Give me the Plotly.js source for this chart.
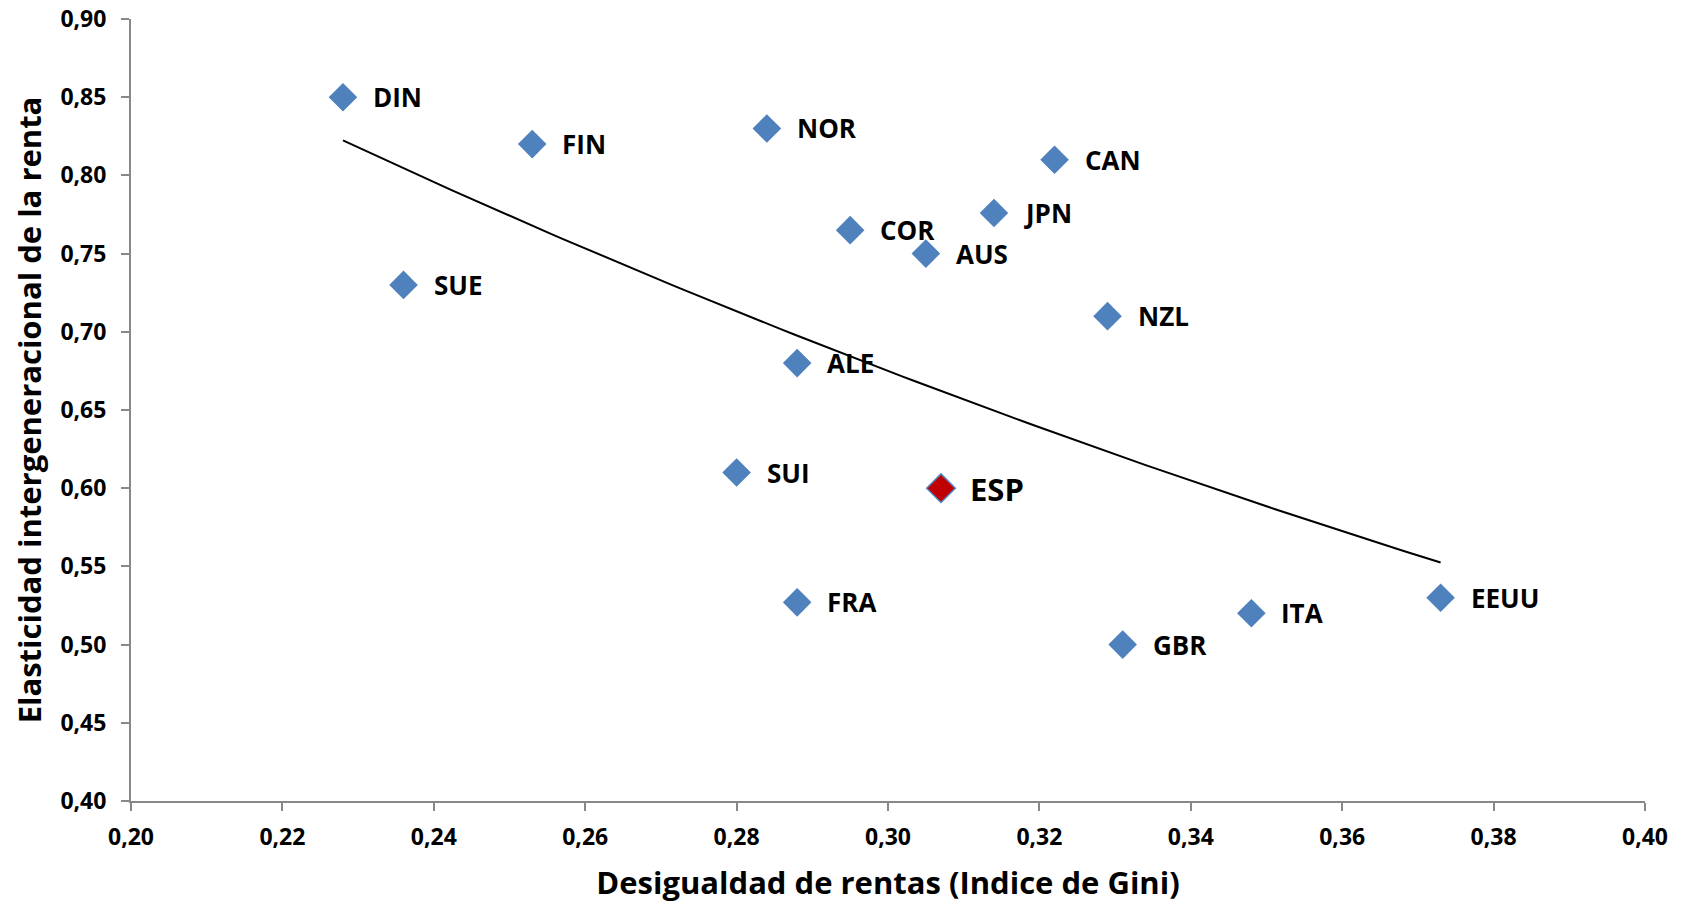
<!DOCTYPE html>
<html>
<head>
<meta charset="utf-8">
<script src="https://cdn.plot.ly/plotly-3.0.1.min.js"></script>
<style>html,body{margin:0;padding:0;background:#fff;}#chart{width:1686px;height:903px;}</style>
</head>
<body>
<div id="chart"></div>
<script>
// Data
const countries = ["DIN","FIN","NOR","CAN","JPN","COR","AUS","SUE","NZL","ALE","SUI","ESP","FRA","ITA","GBR","EEUU"];
const gini      = [0.228,0.253,0.284,0.322,0.314,0.295,0.305,0.236,0.329,0.288,0.280,0.307,0.288,0.348,0.331,0.373];
const elasticity= [0.850,0.820,0.830,0.810,0.776,0.765,0.750,0.730,0.710,0.680,0.610,0.600,0.527,0.520,0.500,0.530];
const highlight = "ESP";
const xTicks = [0.20,0.22,0.24,0.26,0.28,0.30,0.32,0.34,0.36,0.38,0.40];
const yTicks = [0.40,0.45,0.50,0.55,0.60,0.65,0.70,0.75,0.80,0.85,0.90];

const FONT = "Open Sans, sans-serif";
const BLUE = "#4F81BD";
const RED = "#C00000";

// Exponential trend line (least squares of ln y on x), over the data range
const n = gini.length;
const ly = elasticity.map(Math.log);
const mx = gini.reduce((a,b)=>a+b,0)/n;
const mly = ly.reduce((a,b)=>a+b,0)/n;
let sxy=0, sxx=0;
for (let i=0;i<n;i++){ sxy += (gini[i]-mx)*(ly[i]-mly); sxx += (gini[i]-mx)**2; }
const b = sxy/sxx, lna = mly - b*mx;
const xmin = Math.min(...gini), xmax = Math.max(...gini);
const tx=[], ty=[];
for (let k=0;k<=100;k++){ const x = xmin + (xmax-xmin)*k/100; tx.push(x); ty.push(Math.exp(lna + b*x)); }

const idxOther = countries.map((c,i)=>i).filter(i=>countries[i]!==highlight);
const idxHi = countries.map((c,i)=>i).filter(i=>countries[i]===highlight);

const traces = [
  {x: tx, y: ty, mode: "lines", line: {color: "#000", width: 2}, hoverinfo: "skip", showlegend: false},
  {x: idxOther.map(i=>gini[i]), y: idxOther.map(i=>elasticity[i]), mode: "markers",
   marker: {symbol: "diamond", size: 22, color: BLUE, line: {width: 0}}, showlegend: false},
  {x: idxHi.map(i=>gini[i]), y: idxHi.map(i=>elasticity[i]), mode: "markers",
   marker: {symbol: "diamond", size: 22, color: RED, line: {width: 1.5, color: BLUE}}, showlegend: false}
];

const annotations = countries.map((c,i)=>({
  x: gini[i], y: elasticity[i], xref: "x", yref: "y", text: c, showarrow: false,
  xanchor: "left", yanchor: "middle", xshift: c===highlight ? 27 : 28, yshift: c===highlight ? -1 : 0,
  font: {family: FONT, size: c===highlight ? 31 : 26, color: "#000", weight: 700}
}));

const layout = {
  width: 1686, height: 903,
  margin: {l: 131, r: 41, t: 19, b: 102, pad: 0},
  paper_bgcolor: "#fff", plot_bgcolor: "#fff",
  separators: ",.",
  showlegend: false,
  font: {family: FONT, color: "#000"},
  xaxis: {
    range: [0.20, 0.40], tickvals: xTicks, tickformat: ".2f",
    showgrid: false, zeroline: false, showline: true, linecolor: "#888", linewidth: 2,
    ticks: "outside", ticklen: 8, tickwidth: 2, tickcolor: "#888", ticklabelstandoff: 6,
    tickfont: {family: FONT, size: 23, color: "#000", weight: 700},
    title: {text: "Desigualdad de rentas (Indice de Gini)", font: {family: FONT, size: 31, color: "#000", weight: 700}, standoff: 22}
  },
  yaxis: {
    range: [0.40, 0.90], tickvals: yTicks, tickformat: ".2f",
    showgrid: false, zeroline: false, showline: true, linecolor: "#888", linewidth: 2,
    ticks: "outside", ticklen: 8, tickwidth: 2, tickcolor: "#888", ticklabelstandoff: 10,
    tickfont: {family: FONT, size: 23, color: "#000", weight: 700},
    title: {text: "Elasticidad intergeneracional de la renta", font: {family: FONT, size: 31, color: "#000", weight: 700}, standoff: 10}
  },
  annotations: annotations
};

Plotly.newPlot("chart", traces, layout, {displayModeBar: false, staticPlot: true});
</script>
</body>
</html>
